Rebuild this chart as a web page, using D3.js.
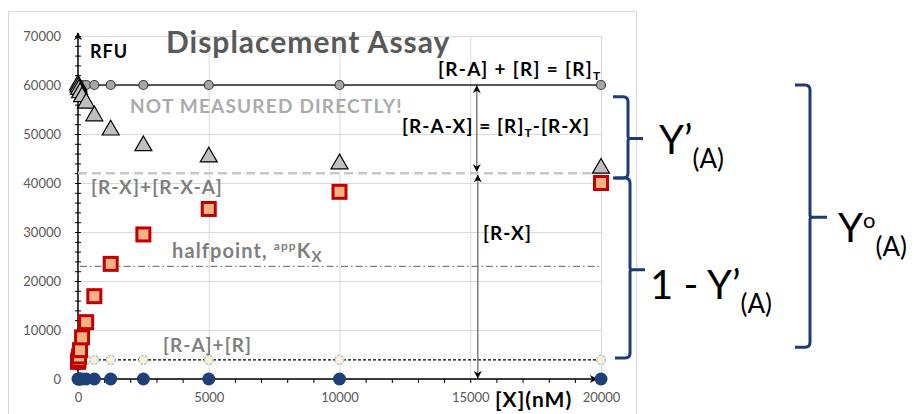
<!DOCTYPE html>
<html>
<head>
<meta charset="utf-8">
<script src="https://cdn.jsdelivr.net/npm/d3@7"></script>
<style>
  body { margin: 0; background: #fff; }
  svg { display: block; font-family: Lato, "Open Sans", sans-serif; }
</style>
</head>
<body>
<div id="chart"></div>
<script>
// ligand concentrations [X] (nM)
const conc = [0, 19.5, 39, 78, 156, 312.5, 625, 1250, 2500, 5000, 10000, 20000];
// RFU series
const totalR = [60000, 60000, 60000, 60000, 60000, 60000, 60000, 60000, 60000, 60000, 60000, 60000];
const tracerBound = [60000, 59600, 59100, 58400, 57600, 56300, 53700, 50800, 47600, 45300, 43900, 43000];
const displaced = [3500, 3900, 4600, 5900, 8500, 11600, 16900, 23500, 29500, 34700, 38200, 40000];
const freeR = [3900, 3900, 3900, 3900, 3900, 3900, 3900, 3900, 3900, 3900, 3900, 3900];
const blank = [0, 0, 0, 0, 0, 0, 0, 0, 0, 0, 0, 0];

const plateauLevel = 42000;
const halfLevel = 23000;
const arrowX = 15250;

const xTicks = [0, 5000, 10000, 15000, 20000];
const yTicks = [0, 10000, 20000, 30000, 40000, 50000, 60000, 70000];

const width = 914, height = 414;

const svg = d3.select('#chart')
    .append('svg')
    .attr('width', width)
    .attr('height', height);

const x = d3.scaleLinear().domain([0, 20000]).range([78, 601]);
const y = d3.scaleLinear().domain([0, 70000]).range([379, 36]);

// chart frame
svg.append('rect')
    .attr('x', 8.5).attr('y', 11.5)
    .attr('width', 628).attr('height', 420)
    .attr('fill', '#fff')
    .attr('stroke', '#d9d9d9');

// gridlines
svg.append('g')
    .selectAll('line')
    .data(yTicks)
    .join('line')
    .attr('x1', x(0)).attr('x2', x(20000))
    .attr('y1', d => y(d) + 0.5).attr('y2', d => y(d) + 0.5)
    .attr('stroke', '#d9d9d9');

svg.append('g')
    .selectAll('line')
    .data(xTicks.slice(1))
    .join('line')
    .attr('x1', d => x(d) + 0.5).attr('x2', d => x(d) + 0.5)
    .attr('y1', y(0)).attr('y2', y(70000))
    .attr('stroke', '#d9d9d9');

// tick labels
svg.append('g')
    .attr('transform', `translate(${x(0) - 14}, 0)`)
    .call(d3.axisLeft(y).tickValues(yTicks).tickSize(0).tickFormat(d3.format('d')))
    .call(g => g.select('.domain').remove())
    .call(g => g.selectAll('text').attr('fill', '#595959').style('font-size', '13px').style('font-family', 'Lato'));

svg.append('g')
    .attr('transform', `translate(0, ${y(0) + 11})`)
    .call(d3.axisBottom(x).tickValues(xTicks).tickSize(0).tickFormat(d3.format('d')))
    .call(g => g.select('.domain').remove())
    .call(g => g.selectAll('text').attr('fill', '#595959').style('font-size', '13px').style('font-family', 'Lato'));

// arrow markers
const defs = svg.append('defs');
const addMarker = (id, w, h) => {
    defs.append('marker')
        .attr('id', id)
        .attr('viewBox', '0 0 10 10')
        .attr('refX', 9).attr('refY', 5)
        .attr('markerWidth', w).attr('markerHeight', h)
        .attr('markerUnits', 'userSpaceOnUse')
        .attr('orient', 'auto-start-reverse')
        .append('path')
        .attr('d', 'M0,0 L10,5 L0,10 L3,5 Z')
        .attr('fill', '#000');
};
addMarker('axisHead', 10, 8);
addMarker('dimHead', 9, 8);

// axes with minor ticks
svg.append('g')
    .attr('transform', `translate(${x(0)}, 0)`)
    .call(d3.axisLeft(y).tickValues(d3.range(0, 70001, 2000)).tickSize(4).tickFormat(''))
    .call(g => g.select('.domain').remove())
    .call(g => g.selectAll('.tick line').attr('x2', -3).attr('x1', 3).attr('stroke', '#000'));

svg.append('g')
    .attr('transform', `translate(0, ${y(0)})`)
    .call(d3.axisBottom(x).tickValues(d3.range(0, 20001, 1000)).tickSize(4).tickFormat(''))
    .call(g => g.select('.domain').remove())
    .call(g => g.selectAll('.tick line').attr('stroke', '#000'));

svg.append('line')
    .attr('x1', x(0)).attr('x2', x(0))
    .attr('y1', y(0)).attr('y2', y(70000) - 3)
    .attr('stroke', '#000').attr('stroke-width', 1.5)
    .attr('marker-end', 'url(#axisHead)');

svg.append('line')
    .attr('x1', x(0)).attr('x2', x(20000) - 4)
    .attr('y1', y(0)).attr('y2', y(0))
    .attr('stroke', '#000').attr('stroke-width', 1.5)
    .attr('marker-end', 'url(#axisHead)');

// horizontal reference lines
svg.append('line')
    .attr('x1', x(0)).attr('x2', x(20000))
    .attr('y1', y(plateauLevel)).attr('y2', y(plateauLevel))
    .attr('stroke', '#c8c8c8').attr('stroke-width', 2.5)
    .attr('stroke-dasharray', '9 5');

svg.append('line')
    .attr('x1', x(0) + 2).attr('x2', x(20000))
    .attr('y1', y(halfLevel)).attr('y2', y(halfLevel))
    .attr('stroke', '#7f7f7f').attr('stroke-width', 1.2)
    .attr('stroke-dasharray', '7 3 1.5 3');

const line = (vals) => d3.line()
    .x((d, i) => x(conc[i]))
    .y(d => y(d))(vals);

svg.append('path')
    .attr('d', line(freeR))
    .attr('fill', 'none')
    .attr('stroke', '#000').attr('stroke-width', 1.2)
    .attr('stroke-dasharray', '3 2');

svg.append('path')
    .attr('d', line(totalR))
    .attr('fill', 'none')
    .attr('stroke', '#262626').attr('stroke-width', 1.5);

// dimension arrows
svg.append('line')
    .attr('x1', x(arrowX)).attr('x2', x(arrowX))
    .attr('y1', y(plateauLevel) - 2).attr('y2', y(totalR[0]) + 1)
    .attr('stroke', '#7f7f7f').attr('stroke-width', 1.5)
    .attr('marker-start', 'url(#dimHead)')
    .attr('marker-end', 'url(#dimHead)');

svg.append('line')
    .attr('x1', x(arrowX) + 1).attr('x2', x(arrowX) + 1)
    .attr('y1', y(plateauLevel) + 2).attr('y2', y(0) - 1)
    .attr('stroke', '#7f7f7f').attr('stroke-width', 1.5)
    .attr('marker-start', 'url(#dimHead)')
    .attr('marker-end', 'url(#dimHead)');

// markers
svg.append('g')
    .selectAll('circle')
    .data(blank)
    .join('circle')
    .attr('cx', (d, i) => x(conc[i]))
    .attr('cy', d => y(d))
    .attr('r', 6.5)
    .attr('fill', '#1f3f78');

svg.append('g')
    .selectAll('circle')
    .data(freeR)
    .join('circle')
    .attr('cx', (d, i) => x(conc[i]))
    .attr('cy', d => y(d))
    .attr('r', 4.5)
    .attr('fill', '#fff2cc')
    .attr('stroke', '#9dc3e6').attr('stroke-width', 1.3)
    .attr('stroke-dasharray', '2.5 1.2');

svg.append('g')
    .selectAll('circle')
    .data(totalR)
    .join('circle')
    .attr('cx', (d, i) => x(conc[i]))
    .attr('cy', d => y(d))
    .attr('r', 4.5)
    .attr('fill', '#a6a6a6')
    .attr('stroke', '#404040').attr('stroke-width', 1.2);

const tri = d3.symbol().type(d3.symbolTriangle).size(125);
svg.append('g')
    .selectAll('path')
    .data(tracerBound)
    .join('path')
    .attr('transform', (d, i) => `translate(${x(conc[i])}, ${y(d)})`)
    .attr('d', tri)
    .attr('fill', '#bfbfbf')
    .attr('stroke', '#000').attr('stroke-width', 1.2);

svg.append('g')
    .selectAll('rect')
    .data(displaced)
    .join('rect')
    .attr('x', (d, i) => x(conc[i]) - 6.5)
    .attr('y', d => y(d) - 6.5)
    .attr('width', 13).attr('height', 13)
    .attr('fill', '#f4b183')
    .attr('stroke', '#c00000').attr('stroke-width', 3);

// chart texts
const label = (tx, ty, size, color, spacing) => svg.append('text')
    .attr('x', tx).attr('y', ty)
    .attr('fill', color)
    .style('font-size', size + 'px')
    .style('font-weight', 'bold')
    .style('letter-spacing', spacing + 'px');

label(90, 58, 18, '#000', 1).text('RFU');
label(166, 53, 30, '#595959', 1).text('Displacement Assay');
label(130, 113, 19, '#ababab', 1.2).text('NOT MEASURED DIRECTLY!');
label(91, 194, 19, '#7f7f7f', 1.1).text('[R-X]+[R-X-A]');
label(163, 352, 19, '#7f7f7f', 1.1).text('[R-A]+[R]');
label(483, 240, 19, '#000', 1.1).text('[R-X]');
label(495, 407, 21, '#000', 1).text('[X](nM)');

const half = label(172, 258, 20, '#7f7f7f', 1.1);
half.append('tspan').text('halfpoint, ');
half.append('tspan').attr('dy', -8).style('font-size', '12px').text('app');
half.append('tspan').attr('dy', 8).text('K');
half.append('tspan').attr('dy', 4).style('font-size', '15px').text('X');

const rt = label(438, 76, 19, '#000', 1.3);
rt.append('tspan').text('[R-A] + [R] = [R]');
rt.append('tspan').attr('dy', 4).style('font-size', '12px').text('T');

const rax = label(402, 133, 19, '#000', 1.1);
rax.append('tspan').text('[R-A-X] = [R]');
rax.append('tspan').attr('dy', 4).style('font-size', '12px').text('T');
rax.append('tspan').attr('dy', -4).text('-[R-X]');

// braces on the right
const navy = '#1f3a78';
const brace = (xl, xv, top, bottom, mid, nub) => {
    const r = 5;
    return `M${xl},${top} L${xv - r},${top} Q${xv},${top} ${xv},${top + r}` +
        ` L${xv},${mid - 2} Q${xv},${mid} ${xv + 3},${mid} L${xv + nub},${mid}` +
        ` M${xv + 3},${mid} Q${xv},${mid} ${xv},${mid + 2}` +
        ` L${xv},${bottom - r} Q${xv},${bottom} ${xv - r},${bottom} L${xl},${bottom}`;
};

svg.append('path')
    .attr('d', brace(613, 628, y(57600), y(41000), y(49100), 15))
    .attr('fill', 'none').attr('stroke', navy).attr('stroke-width', 3);

svg.append('path')
    .attr('d', brace(615, 630, y(41000), y(4300), y(22300), 15))
    .attr('fill', 'none').attr('stroke', navy).attr('stroke-width', 3);

svg.append('path')
    .attr('d', brace(795, 810, y(60000), y(6500), y(33000), 17))
    .attr('fill', 'none').attr('stroke', navy).attr('stroke-width', 3);

const big = (tx, ty) => svg.append('text')
    .attr('x', tx).attr('y', ty)
    .attr('fill', '#000')
    .style('font-size', '40px');

const y1 = big(659, 154);
y1.append('tspan').text('Y’');
y1.append('tspan').attr('dy', 14).style('font-size', '26px').text('(A)');

const y2 = big(650, 299);
y2.append('tspan').text('1 - Y’');
y2.append('tspan').attr('dy', 14).style('font-size', '26px').text('(A)');

const y0 = big(838, 242);
y0.append('tspan').text('Y');
y0.append('tspan').attr('dy', -14).style('font-size', '22px').text('o');
y0.append('tspan').attr('dy', 28).style('font-size', '26px').text('(A)');
</script>
</body>
</html>
